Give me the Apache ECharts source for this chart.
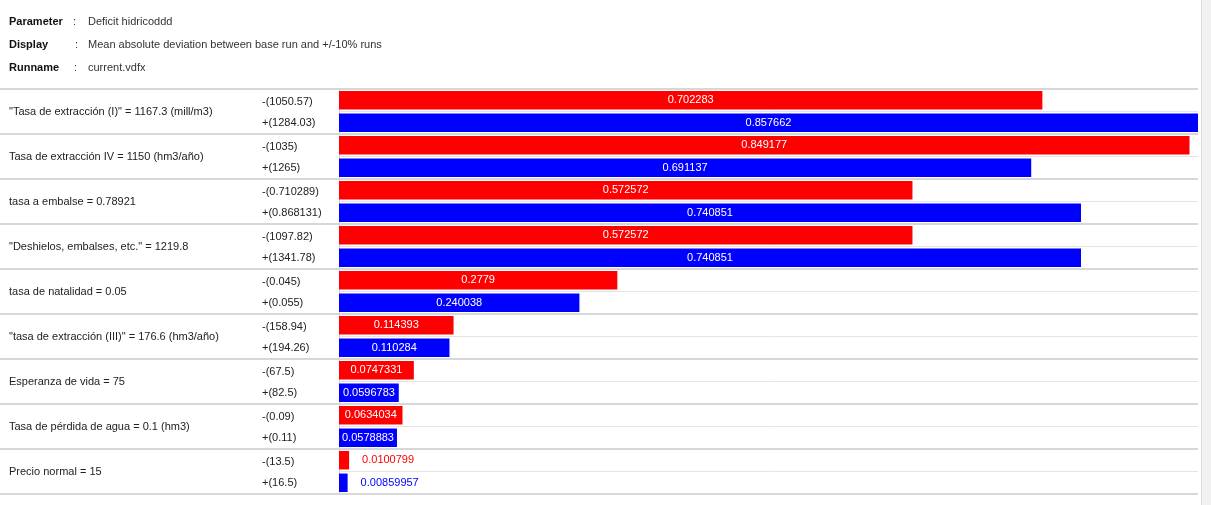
<!DOCTYPE html>
<html><head><meta charset="utf-8">
<script src="https://cdn.jsdelivr.net/npm/echarts@6/dist/echarts.min.js"></script>
<style>html,body{margin:0;padding:0;background:#fff}#c{width:1211px;height:505px}</style>
</head><body><div id="c"></div>
<script>
// ---- data ----
const parameters = [
  '"Tasa de extracción (I)" = 1167.3 (mill/m3)',
  'Tasa de extracción IV = 1150 (hm3/año)',
  'tasa a embalse = 0.78921',
  '"Deshielos, embalses, etc." = 1219.8',
  'tasa de natalidad = 0.05',
  '"tasa de extracción (III)" = 176.6 (hm3/año)',
  'Esperanza de vida = 75',
  'Tasa de pérdida de agua = 0.1 (hm3)',
  'Precio normal = 15'
];
const minusInputs = ['1050.57', '1035', '0.710289', '1097.82', '0.045', '158.94', '67.5', '0.09', '13.5'];
const plusInputs  = ['1284.03', '1265', '0.868131', '1341.78', '0.055', '194.26', '82.5', '0.11', '16.5'];
const minusDeviation = [0.702283, 0.849177, 0.572572, 0.572572, 0.2779, 0.114393, 0.0747331, 0.0634034, 0.0100799];
const plusDeviation  = [0.857662, 0.691137, 0.740851, 0.740851, 0.240038, 0.110284, 0.0596783, 0.0578883, 0.00859957];
const headerKeys   = ['Parameter', 'Display', 'Runname'];
const headerValues = ['Deficit hidricoddd', 'Mean absolute deviation between base run and +/-10% runs', 'current.vdfx'];

// ---- derived ----
const runLabels = [];
parameters.forEach((p, i) => { runLabels.push('-(' + minusInputs[i] + ')'); runLabels.push('+(' + plusInputs[i] + ')'); });

const FONT = '"Liberation Sans", Arial, sans-serif';
const TOP = 89, ROW = 45, H = ROW * parameters.length, RIGHT = 13;

function items(values, color) {
  return values.map(v => {
    const small = v < 0.03;
    return {
      value: v,
      label: small ? { position: 'right', distance: 13, color: color } : { position: 'inside', color: '#fff' }
    };
  });
}

const headerGraphics = [];
const colonX = [73, 75, 74];
headerKeys.forEach((k, i) => {
  const y = 21 + i * 23;
  headerGraphics.push({ type: 'text', left: 9, top: y - 5, style: { text: k, font: 'bold 11px ' + FONT, fill: '#111' } });
  headerGraphics.push({ type: 'text', left: colonX[i], top: y - 5, style: { text: ':', font: '11px ' + FONT, fill: '#333' } });
  headerGraphics.push({ type: 'text', left: 88, top: y - 5, style: { text: headerValues[i], font: '11px ' + FONT, fill: '#333' } });
});
headerGraphics.push({ type: 'rect', shape: { x: 1201, y: 0, width: 10, height: 505 }, style: { fill: '#f1f1f1' } });
headerGraphics.push({ type: 'line', shape: { x1: 1201.5, y1: 0, x2: 1201.5, y2: 505 }, style: { stroke: '#dddddd', lineWidth: 1 } });

const chart = echarts.init(document.getElementById('c'), null, { renderer: 'canvas' });
chart.setOption({
  backgroundColor: '#fff',
  animation: false,
  textStyle: { fontFamily: FONT },
  graphic: headerGraphics,
  grid: [
    { left: 0, right: RIGHT, top: TOP, height: H },
    { left: 339, right: RIGHT, top: TOP, height: H }
  ],
  xAxis: [
    { gridIndex: 0, type: 'value', min: 0, max: 1, show: false },
    { gridIndex: 1, type: 'value', min: 0, max: v => v.max, show: false }
  ],
  yAxis: [
    { gridIndex: 0, type: 'category', inverse: true, data: parameters, z: 3,
      axisLine: { show: false }, axisTick: { show: false }, axisLabel: { show: false },
      splitLine: { show: true, lineStyle: { color: '#d7d7d7', width: 2 } } },
    { gridIndex: 1, type: 'category', inverse: true, data: parameters, position: 'left', z: 2,
      axisLine: { show: true, lineStyle: { color: '#cfcfcf', width: 1 } }, axisTick: { show: false },
      axisLabel: { interval: 0, align: 'left', margin: 330, fontSize: 11, color: '#222', fontFamily: FONT, padding: [2, 0, 0, 0] },
      splitLine: { show: false } },
    { gridIndex: 1, type: 'category', inverse: true, data: runLabels, position: 'left', offset: 0, z: 1,
      axisLine: { show: false }, axisTick: { show: false },
      axisLabel: { interval: 0, align: 'left', margin: 77, fontSize: 11, color: '#222', fontFamily: FONT,
        formatter: (v, i) => (i % 2 === 0 ? '{m|' : '{p|') + v + '}',
        rich: { m: { fontSize: 11, color: '#222', padding: [4, 0, 0, 0] }, p: { fontSize: 11, color: '#222', padding: [0, 0, 0, 0] } } },
      splitLine: { show: true, lineStyle: { color: '#e4e4e4', width: 1 } } }
  ],
  series: [
    { name: '-10%', type: 'bar', xAxisIndex: 1, yAxisIndex: 1, data: items(minusDeviation, '#ff0000'),
      itemStyle: { color: '#ff0000' }, barWidth: 18.5, barGap: '22%',
      label: { show: true, fontSize: 11, fontFamily: FONT, formatter: p => String(p.value) } },
    { name: '+10%', type: 'bar', xAxisIndex: 1, yAxisIndex: 1, data: items(plusDeviation, '#0000ff'),
      itemStyle: { color: '#0000ff' }, barWidth: 18.5, barGap: '22%',
      label: { show: true, fontSize: 11, fontFamily: FONT, formatter: p => String(p.value) } }
  ]
});
</script>
</body></html>
